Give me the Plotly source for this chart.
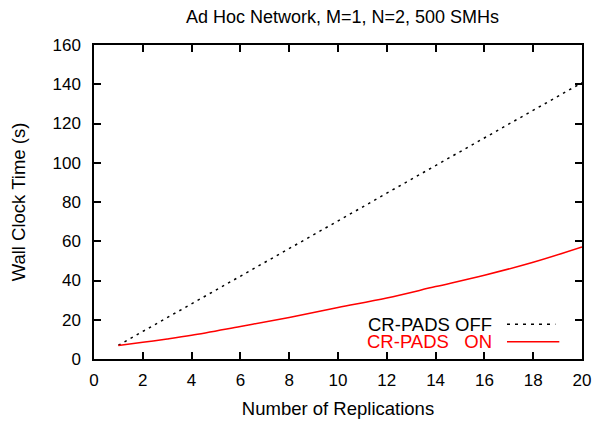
import plotly.graph_objects as go

title_text = "Ad Hoc Network, M=1, N=2, 500 SMHs"
x_label = "Number of Replications"
y_label = "Wall Clock Time (s)"

replications = list(range(1, 21))
off_times = [7.0, 14.0, 21.1, 28.1, 35.2, 42.2, 49.2, 56.3, 63.3, 70.4,
             77.4, 84.5, 91.5, 98.6, 105.6, 112.6, 119.7, 126.7, 133.8, 140.8]
on_x = [1, 2, 3, 4, 6, 8, 10, 12, 14, 16, 18, 20]
on_times = [6.9, 8.5, 10.2, 12.1, 16.6, 21.2, 26.2, 31.1, 36.9, 42.7, 49.3, 57.1]

series_names = ["CR-PADS OFF", "CR-PADS\u00a0\u00a0\u00a0ON"]

FONT = "Liberation Sans, Arial, Helvetica, sans-serif"
DOTS = "2.5px,4.5px"

fig = go.Figure()
fig.add_trace(go.Scatter(x=replications, y=off_times, mode="lines",
                         line=dict(color="black", width=1.5, dash=DOTS),
                         name=series_names[0], showlegend=False))
fig.add_trace(go.Scatter(x=on_x, y=on_times, mode="lines", line_shape="spline",
                         line=dict(color="#ff0000", width=1.5),
                         name=series_names[1], showlegend=False))

axis_common = dict(showline=True, linecolor="black", linewidth=1.5, mirror="allticks",
                   ticks="inside", ticklen=7, tickwidth=1.5, tickcolor="black",
                   showgrid=False, zeroline=False,
                   tickfont=dict(family=FONT, size=17, color="black"))

fig.update_layout(
    width=603, height=428,
    margin=dict(l=94.3, r=14, t=44.5, b=60.5),
    paper_bgcolor="white", plot_bgcolor="white",
    title=dict(text=title_text, x=0.568, xanchor="center", y=0.962, yanchor="middle",
               font=dict(family=FONT, size=18, color="black")),
    xaxis=dict(range=[0, 20], dtick=2, ticklabelstandoff=5,
               title=dict(text=x_label, font=dict(family=FONT, size=18.5, color="black"), standoff=13),
               **axis_common),
    yaxis=dict(range=[0, 160], dtick=20, ticklabelstandoff=8,
               title=dict(text=y_label, font=dict(family=FONT, size=18.5, color="black"), standoff=22),
               **axis_common),
    annotations=[
        dict(text=series_names[0], xref="paper", yref="paper", x=0.820, y=0.1108,
             xanchor="right", yanchor="middle", showarrow=False,
             font=dict(family=FONT, size=18.5, color="black")),
        dict(text=series_names[1], xref="paper", yref="paper", x=0.820, y=0.0551,
             xanchor="right", yanchor="middle", showarrow=False,
             font=dict(family=FONT, size=18.5, color="#ff0000")),
    ],
    shapes=[
        dict(type="line", xref="paper", yref="paper", x0=0.8463, x1=0.9454, y0=0.1108, y1=0.1108,
             line=dict(color="black", width=1.5, dash="3px,5px")),
        dict(type="line", xref="paper", yref="paper", x0=0.8463, x1=0.9535, y0=0.0551, y1=0.0551,
             line=dict(color="#ff0000", width=1.5)),
    ],
)

# remove the browser's default 8px body margin so the figure fills the window exactly
fig.write_html("out.html", config={"displayModeBar": False},
               post_script="document.body.style.margin='0';")
